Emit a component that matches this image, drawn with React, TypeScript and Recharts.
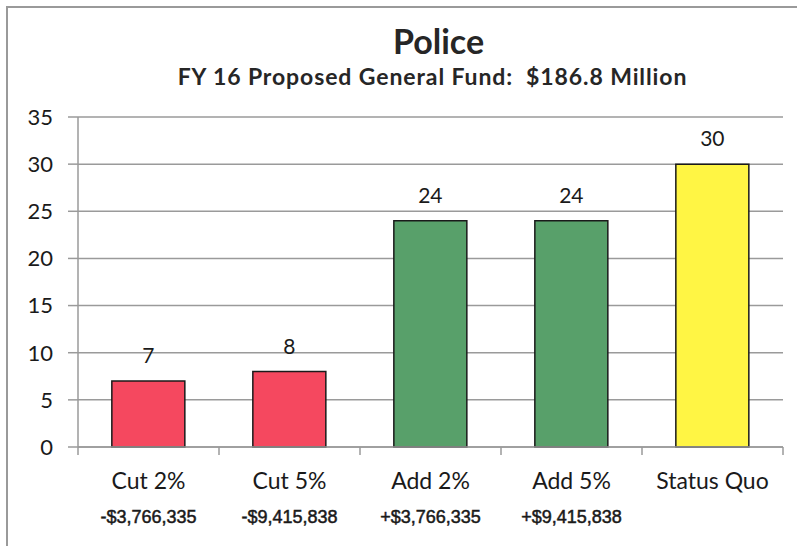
import { BarChart, Bar, XAxis, YAxis, CartesianGrid, Cell, LabelList } from 'recharts'

const categories = ['Cut 2%', 'Cut 5%', 'Add 2%', 'Add 5%', 'Status Quo']
const amounts = ['-$3,766,335', '-$9,415,838', '+$3,766,335', '+$9,415,838', '']
const votes = [7, 8, 24, 24, 30]
const yTicks = [0, 5, 10, 15, 20, 25, 30, 35]
const barColors = ['#f5485f', '#f5485f', '#58a06a', '#58a06a', '#fff544']

const data = categories.map((name, i) => ({ name, amount: amounts[i], value: votes[i] }))

const FONT = 'Lato, "Open Sans", sans-serif'
const GRID = '#9a9a9a'

// excel-style category labels: name + dollar amount, with tick marks between categories
function CategoryTick(props: any) {
  const { x, y, payload, index, width, visibleTicksCount } = props
  const bw = width && visibleTicksCount ? width / visibleTicksCount : 0
  const last = index === visibleTicksCount - 1
  return (
    <g>
      {bw > 0 && <line x1={x - bw / 2} x2={x - bw / 2} y1={y} y2={y + 8} stroke={GRID} strokeWidth={1.5} />}
      {bw > 0 && last && <line x1={x + bw / 2} x2={x + bw / 2} y1={y} y2={y + 8} stroke={GRID} strokeWidth={1.5} />}
      <text x={x} y={y + 42} textAnchor="middle" fontFamily={FONT} fontSize={23} fill="#1a1a1a">
        {payload.value}
      </text>
      <text
        x={x}
        y={y + 76}
        textAnchor="middle"
        fontFamily='"Liberation Sans", Arial, sans-serif'
        fontSize={18}
        fill="#1a1a1a"
        stroke="#1a1a1a"
        strokeWidth={0.5}
      >
        {amounts[index]}
      </text>
    </g>
  )
}

export default function App() {
  return (
    <div style={{ position: 'absolute', left: 0, top: 0, width: 797, height: 546, background: '#fff' }}>
      <div
        style={{
          position: 'absolute',
          left: 6,
          top: 6,
          width: 800,
          height: 560,
          borderLeft: '2px solid #9a9a9a',
          borderTop: '2px solid #9a9a9a',
        }}
      />
      <div
        style={{
          position: 'absolute',
          left: 0,
          width: 877,
          top: 20,
          textAlign: 'center',
          fontFamily: FONT,
          fontWeight: 700,
          fontSize: 34,
          color: '#262626',
        }}
      >
        Police
      </div>
      <div
        style={{
          position: 'absolute',
          left: 0,
          width: 865,
          top: 62,
          textAlign: 'center',
          fontFamily: FONT,
          fontWeight: 700,
          fontSize: 23,
          letterSpacing: 0.9,
          color: '#262626',
          whiteSpace: 'pre',
        }}
      >
        {'FY 16 Proposed General Fund:  $186.8 Million'}
      </div>
      <div style={{ position: 'absolute', left: 0, top: 0 }}>
        <BarChart
          width={797}
          height={546}
          data={data}
          margin={{ top: 117, right: 14, bottom: 0, left: 18 }}
          barCategoryGap="24%"
        >
          <CartesianGrid vertical={false} stroke={GRID} strokeWidth={1.5} />
          <XAxis
            dataKey="name"
            height={99}
            axisLine={{ stroke: GRID, strokeWidth: 1.5 }}
            tickLine={false}
            tickSize={0}
            tickMargin={0}
            interval={0}
            tick={<CategoryTick />}
          />
          <YAxis
            width={60}
            domain={[0, 35]}
            ticks={yTicks}
            interval={0}
            axisLine={{ stroke: GRID, strokeWidth: 1.5 }}
            tickLine={{ stroke: GRID, strokeWidth: 1.5 }}
            tickSize={10}
            tickMargin={15}
            tick={{ fontFamily: FONT, fontSize: 22, fill: '#1a1a1a' }}
          />
          <Bar dataKey="value" stroke="#1a1a1a" strokeWidth={1.5} isAnimationActive={false}>
            {data.map((d, i) => (
              <Cell key={d.name} fill={barColors[i]} />
            ))}
            <LabelList
              dataKey="value"
              position="top"
              offset={18}
              style={{ fontFamily: FONT, fontSize: 21, fill: '#1a1a1a' }}
            />
          </Bar>
        </BarChart>
      </div>
    </div>
  )
}
